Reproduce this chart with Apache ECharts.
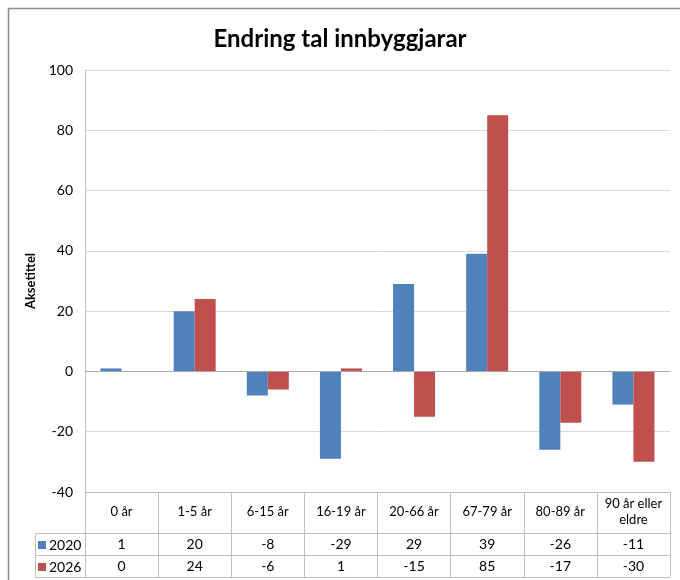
<!DOCTYPE html>
<html>
<head>
<meta charset="utf-8">
<script src="https://cdn.jsdelivr.net/npm/echarts@6/dist/echarts.min.js"></script>
<style>
  html, body { margin: 0; padding: 0; background: #fff; }
  #main { width: 680px; height: 580px; }
</style>
</head>
<body>
<div id="main"></div>
<script>
var categories = ['0 år', '1-5 år', '6-15 år', '16-19 år', '20-66 år', '67-79 år', '80-89 år', '90 år eller\neldre']
var s2020 = [1, 20, -8, -29, 29, 39, -26, -11]
var s2026 = [0, 24, -6, 1, -15, 85, -17, -30]
var seriesNames = ['2020', '2026']
var colors = ['#4F81BD', '#C0504D']

var FONT = 'Lato'
var gridLeft = 85
var gridRight = 10
var gridTop = 70
var gridBottom = 88
var lineColor = '#bfbfbf'

var chart = echarts.init(document.getElementById('main'))

var option = {
  animation: false,
  color: colors,
  title: {
    text: 'Endring tal innbyggjarar',
    left: 'center',
    top: 22,
    textStyle: { fontFamily: FONT, fontSize: 24, fontWeight: 'bold', color: '#000' }
  },
  legend: {
    orient: 'vertical',
    left: 38,
    top: 538,
    padding: 0,
    itemWidth: 8,
    itemHeight: 8,
    itemGap: 8,
    icon: 'rect',
    data: seriesNames,
    textStyle: { fontFamily: FONT, fontSize: 14, color: '#000', lineHeight: 14, padding: [0, 0, 0, -2] }
  },
  grid: { left: gridLeft, right: gridRight, top: gridTop, bottom: gridBottom },
  xAxis: [
    {
      type: 'category',
      data: categories,
      axisLine: { onZero: false, lineStyle: { color: lineColor } },
      axisTick: { show: true, length: 85, lineStyle: { color: lineColor } },
      axisLabel: { margin: 20, verticalAlign: 'middle', fontFamily: FONT, fontSize: 13, color: '#000', lineHeight: 16, interval: 0 }
    },
    {
      type: 'category',
      position: 'bottom',
      offset: 41,
      data: s2020.map(String),
      axisLine: { onZero: false, lineStyle: { color: lineColor } },
      axisTick: { show: false },
      axisLabel: { margin: 11, verticalAlign: 'middle', fontFamily: FONT, fontSize: 14, color: '#000', interval: 0 }
    },
    {
      type: 'category',
      position: 'bottom',
      offset: 63,
      data: s2026.map(String),
      axisLine: { onZero: false, lineStyle: { color: lineColor } },
      axisTick: { show: false },
      axisLabel: { margin: 11, verticalAlign: 'middle', fontFamily: FONT, fontSize: 14, color: '#000', interval: 0 }
    }
  ],
  yAxis: {
    type: 'value',
    min: -40,
    max: 100,
    interval: 20,
    name: 'Aksetittel',
    nameLocation: 'middle',
    nameGap: 38,
    nameTextStyle: { fontFamily: FONT, fontSize: 13, fontWeight: 'bold', color: '#000' },
    axisLine: { show: true, lineStyle: { color: lineColor } },
    axisTick: { show: false },
    axisLabel: { margin: 12, fontFamily: FONT, fontSize: 14, color: '#000' },
    splitLine: { lineStyle: { color: '#d9d9d9', width: 1 } }
  },
  series: [
    {
      name: seriesNames[0],
      type: 'bar',
      data: s2020,
      barWidth: 21,
      barGap: '0%',
      markLine: {
        silent: true,
        symbol: 'none',
        label: { show: false },
        lineStyle: { color: '#a6a6a6', type: 'solid', width: 1 },
        data: [{ yAxis: 0 }]
      }
    },
    {
      name: seriesNames[1],
      type: 'bar',
      data: s2026,
      barWidth: 21,
      barGap: '0%'
    }
  ],
  graphic: [
    // outer chart frame
    { type: 'polyline', silent: true, shape: { points: [[8.5, 580], [8.5, 8.5], [680, 8.5]] }, style: { stroke: '#8c8c8c', lineWidth: 1.5, fill: null } },
    // legend cell borders of data table
    { type: 'polyline', silent: true, shape: { points: [[gridLeft, 533.5], [35.5, 533.5], [35.5, 577.5], [670, 577.5]] }, style: { stroke: lineColor, lineWidth: 1, fill: null } },
    { type: 'line', silent: true, shape: { x1: 35.5, y1: 555.5, x2: gridLeft, y2: 555.5 }, style: { stroke: lineColor, lineWidth: 1 } }
  ]
}

chart.setOption(option)
</script>
</body>
</html>
